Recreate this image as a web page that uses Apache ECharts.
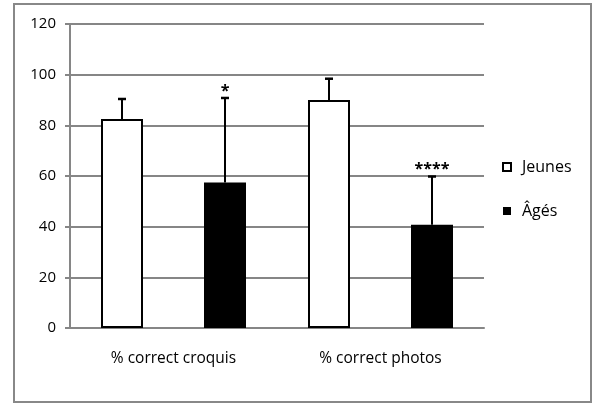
<!DOCTYPE html>
<html>
<head>
<meta charset="utf-8">
<script src="https://cdn.jsdelivr.net/npm/echarts@6/dist/echarts.min.js"></script>
<style>
  html, body { margin: 0; padding: 0; background: #fff; }
  #chart { width: 592px; height: 404px; }
</style>
</head>
<body>
<div id="chart"></div>
<script>
// données
var categories = ['% correct croquis', '% correct photos']
var jeunes = [82.5, 90]
var jeunesErr = [90.4, 98.4] // haut de la barre d'erreur
var ages = [57.4, 40.8]
var agesErr = [90.8, 59.8]
var agesSig = ['*', '****']
var yTicks = [0, 20, 40, 60, 80, 100, 120]

var BAR_W = 42
var BAR_GAP = 61
var OFFSET = (BAR_W + BAR_GAP) / 2
var FONT = '"Open Sans", sans-serif'

function errSeries(name, tops, shift, sig) {
  return {
    name: name + ' err',
    type: 'custom',
    z: 5,
    data: tops.map(function (v, i) { return [i, v] }),
    renderItem: function (params, api) {
      var cat = api.value(0)
      var top = api.coord([cat, api.value(1)])
      var base = api.coord([cat, (shift < 0 ? jeunes : ages)[cat]])
      var x = Math.round(top[0] + shift)
      var children = [
        { type: 'line', shape: { x1: x, y1: base[1], x2: x, y2: top[1] }, style: { stroke: '#000', lineWidth: 2 } },
        { type: 'line', shape: { x1: x - 4, y1: top[1], x2: x + 4, y2: top[1] }, style: { stroke: '#000', lineWidth: 2.5 } }
      ]
      if (sig && sig[cat]) {
        children.push({
          type: 'text',
          style: {
            text: sig[cat], x: x, y: top[1] + 1,
            align: 'center', verticalAlign: 'bottom',
            font: 'bold 16px ' + FONT, fill: '#000'
          }
        })
      }
      return { type: 'group', children: children }
    }
  }
}

var chart = echarts.init(document.getElementById('chart'))
var option = {
  animation: false,
  backgroundColor: '#fff',
  graphic: [{
    type: 'rect',
    shape: { x: 14, y: 4, width: 577, height: 398 },
    style: { fill: 'none', stroke: '#888', lineWidth: 2 }
  }],
  legend: {
    orient: 'vertical',
    left: 497,
    top: 154,
    itemWidth: 8,
    itemHeight: 8,
    itemGap: 28,
    icon: 'rect',
    textStyle: { fontFamily: FONT, fontSize: 16, color: '#000', padding: [0, 0, 0, 6] },
    data: ['Jeunes', 'Âgés']
  },
  grid: { left: 70, right: 108, top: 24, bottom: 76, containLabel: false },
  xAxis: {
    type: 'category',
    data: categories,
    axisLine: { lineStyle: { color: '#868686', width: 2 } },
    axisTick: { show: false },
    axisLabel: { margin: 23, fontFamily: FONT, fontSize: 15.5, color: '#000' }
  },
  yAxis: {
    type: 'value',
    min: yTicks[0],
    max: yTicks[yTicks.length - 1],
    interval: yTicks[1] - yTicks[0],
    axisLine: { show: true, lineStyle: { color: '#868686', width: 2 } },
    axisTick: { show: true, length: 5, lineStyle: { color: '#868686', width: 2 } },
    splitLine: { lineStyle: { color: '#868686', width: 2 } },
    axisLabel: { margin: 14, fontFamily: FONT, fontSize: 15, color: '#000' }
  },
  series: [
    {
      name: 'Jeunes',
      type: 'bar',
      z: 3,
      barWidth: BAR_W,
      barGap: (BAR_GAP / BAR_W * 100) + '%',
      data: jeunes,
      itemStyle: { color: '#fff', borderColor: '#000', borderWidth: 2 }
    },
    {
      name: 'Âgés',
      type: 'bar',
      z: 3,
      barWidth: BAR_W,
      data: ages,
      itemStyle: { color: '#000', borderColor: '#000', borderWidth: 0 }
    },
    errSeries('Jeunes', jeunesErr, -OFFSET, null),
    errSeries('Âgés', agesErr, OFFSET, agesSig)
  ]
}
chart.setOption(option)
</script>
</body>
</html>
